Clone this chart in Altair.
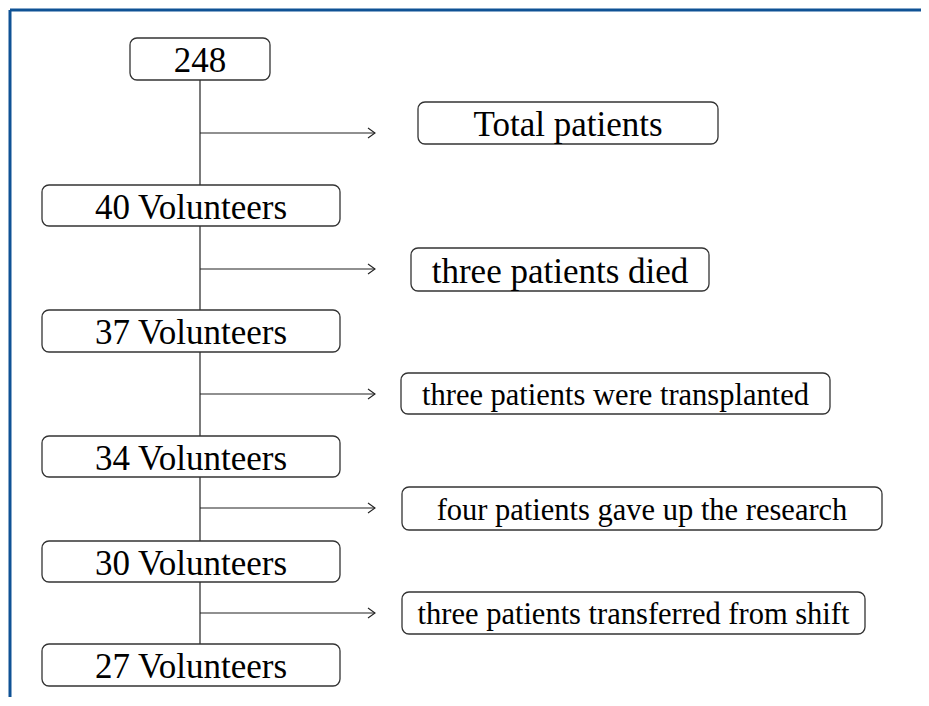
import altair as alt
import pandas as pd

# ---- content ----
stage_labels = ["248", "40 Volunteers", "37 Volunteers", "34 Volunteers",
                "30 Volunteers", "27 Volunteers"]
exit_labels = ["Total patients", "three patients died",
               "three patients were transplanted",
               "four patients gave up the research",
               "three patients transferred from shift"]

# ---- layout (reference canvas pixels) ----
stage_x1 = [130, 42, 42, 42, 42, 42]
stage_x2 = [270, 340, 340, 340, 340, 340]
stage_y1 = [38, 185, 310, 436, 541, 644]
stage_y2 = [80, 226, 352, 477, 582, 686]
stage_font = [35, 35, 35, 35, 35, 35]

exit_x1 = [418, 411, 401, 402, 402]
exit_x2 = [718, 709, 830, 882, 865]
exit_y1 = [102, 248, 373, 487, 592]
exit_y2 = [144, 291, 414, 530, 634]
exit_font = [35, 35, 30.5, 30.5, 30.5]

arrow_y = [133, 269, 394, 508, 613]
trunk_x = 200
arrow_end = 375

W, H = 913, 689
xs = alt.Scale(domain=[8, 8 + W], range=[0, W], nice=False, zero=False)
ys = alt.Scale(domain=[8, 8 + H], range=[0, H], nice=False, zero=False)

stages = pd.DataFrame({"label": stage_labels, "x1": stage_x1, "x2": stage_x2,
                       "y1": stage_y1, "y2": stage_y2, "fs": stage_font})
exits = pd.DataFrame({"label": exit_labels, "x1": exit_x1, "x2": exit_x2,
                      "y1": exit_y1, "y2": exit_y2, "fs": exit_font})
boxes = pd.concat([stages, exits], ignore_index=True)
boxes["xc"] = (boxes["x1"] + boxes["x2"]) / 2
boxes["yc"] = (boxes["y1"] + boxes["y2"]) / 2

arrows = pd.DataFrame({"xs": [trunk_x] * len(arrow_y),
                       "xe": [arrow_end] * len(arrow_y), "y": arrow_y})
trunk = pd.DataFrame({"x": [trunk_x], "y1": [stage_y2[0]], "y2": [stage_y1[-1]]})
border = pd.DataFrame({"x1": [10, 10], "x2": [8 + W, 10],
                       "y1": [10, 10], "y2": [10, 8 + H]})

line_col = "#222222"

border_l = alt.Chart(border).mark_rule(color="#0f5295", strokeWidth=3).encode(
    x=alt.X("x1:Q", scale=xs, axis=None), x2="x2:Q",
    y=alt.Y("y1:Q", scale=ys, axis=None), y2="y2:Q")

trunk_l = alt.Chart(trunk).mark_rule(color=line_col, strokeWidth=1.2).encode(
    x=alt.X("x:Q", scale=xs, axis=None),
    y=alt.Y("y1:Q", scale=ys, axis=None), y2="y2:Q")

arrow_l = alt.Chart(arrows).mark_rule(color=line_col, strokeWidth=1.2).encode(
    x=alt.X("xs:Q", scale=xs, axis=None), x2="xe:Q",
    y=alt.Y("y:Q", scale=ys, axis=None))

head_l = alt.Chart(arrows).mark_point(
    shape="M-1.4,-1L0,0L-1.4,1", filled=False, size=100,
    stroke=line_col, strokeWidth=1.1, opacity=1).encode(
    x=alt.X("xe:Q", scale=xs, axis=None),
    y=alt.Y("y:Q", scale=ys, axis=None))

box_l = alt.Chart(boxes).mark_rect(
    fill="white", stroke="#333333", strokeWidth=1.3, cornerRadius=7).encode(
    x=alt.X("x1:Q", scale=xs, axis=None), x2="x2:Q",
    y=alt.Y("y1:Q", scale=ys, axis=None), y2="y2:Q")

text_l = alt.Chart(boxes).mark_text(
    font="Liberation Serif", align="center", baseline="middle",
    color="black", dy=2).encode(
    x=alt.X("xc:Q", scale=xs, axis=None),
    y=alt.Y("yc:Q", scale=ys, axis=None),
    text="label:N",
    size=alt.Size("fs:Q", scale=None, legend=None))

chart = alt.layer(border_l, trunk_l, arrow_l, head_l, box_l, text_l).properties(
    width=W, height=H, padding=0, autosize=alt.AutoSizeParams(type="none"),
    background="white"
).configure_view(stroke=None)

chart.save("out.html", embed_options={"renderer": "svg", "actions": False})
